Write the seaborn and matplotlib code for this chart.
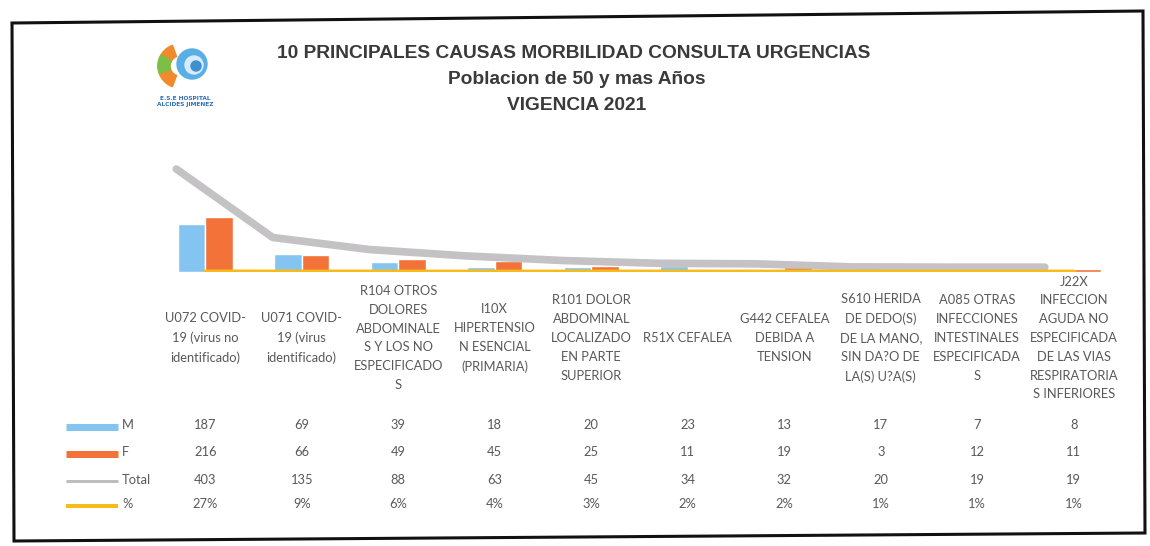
import numpy as np
import pandas as pd
import matplotlib
matplotlib.use("Agg")
import matplotlib.pyplot as plt
from matplotlib.lines import Line2D
from matplotlib.patches import Polygon, Circle, Wedge
import seaborn as sns

causas = [
    "U072 COVID-\n19 (virus no\nidentificado)",
    "U071 COVID-\n19 (virus\nidentificado)",
    "R104 OTROS\nDOLORES\nABDOMINALE\nS Y LOS NO\nESPECIFICADO\nS",
    "I10X\nHIPERTENSIO\nN ESENCIAL\n(PRIMARIA)",
    "R101 DOLOR\nABDOMINAL\nLOCALIZADO\nEN PARTE\nSUPERIOR",
    "R51X CEFALEA",
    "G442 CEFALEA\nDEBIDA A\nTENSION",
    "S610 HERIDA\nDE DEDO(S)\nDE LA MANO,\nSIN DA?O DE\nLA(S) U?A(S)",
    "A085 OTRAS\nINFECCIONES\nINTESTINALES\nESPECIFICADA\nS",
    "J22X\nINFECCION\nAGUDA NO\nESPECIFICADA\nDE LAS VIAS\nRESPIRATORIA\nS INFERIORES",
]
masculino = [187, 69, 39, 18, 20, 23, 13, 17, 7, 8]
femenino = [216, 66, 49, 45, 25, 11, 19, 3, 12, 11]
total = [403, 135, 88, 63, 45, 34, 32, 20, 19, 19]
porcentaje = [27, 9, 6, 4, 3, 2, 2, 1, 1, 1]

titulo = "10 PRINCIPALES CAUSAS MORBILIDAD CONSULTA URGENCIAS"
subtitulo = "Poblacion de 50 y mas Años"
vigencia = "VIGENCIA 2021"

c_m = "#84C4F0"
c_f = "#F3723A"
c_total = "#BEBCBE"
c_pct = "#F7BC1C"
c_texto = "#595959"

W, H = 1150, 546
n = len(causas)

# tabla larga para seaborn
codigos = [f"c{i}" for i in range(n)]
df = pd.DataFrame({
    "causa": codigos * 2,
    "casos": masculino + femenino,
    "sexo": ["M"] * n + ["F"] * n,
})

sns.set_theme(style="white")
plt.rcParams["font.family"] = ["Lato", "DejaVu Sans"]

fig = plt.figure(figsize=(W / 100, H / 100), dpi=100)
fig.patch.set_facecolor("white")

# area del grafico (pixeles de la imagen original)
x0, x1 = 157, 1122
y_base, y_top = 272, 157
ax = fig.add_axes([x0 / W, 1 - y_base / H, (x1 - x0) / W, (y_base - y_top) / H])
ax.set_facecolor("none")

sns.barplot(
    data=df, x="causa", y="casos", hue="sexo", order=codigos,
    palette={"M": c_m, "F": c_f}, width=0.57, saturation=1,
    legend=False, ax=ax, zorder=2,
)
pos = np.arange(n)
sns.lineplot(x=pos - 0.3, y=total, color=c_total, lw=5.5, alpha=0.9,
             ax=ax, zorder=3, solid_capstyle="round")
sns.lineplot(x=pos, y=np.array(porcentaje) / 100, color=c_pct, lw=3.5,
             ax=ax, zorder=4)
ax.set_xlim(-0.5, n - 0.5)
ax.set_ylim(0, 450)
ax.set_xlabel("")
ax.set_ylabel("")
ax.set_xticks([])
ax.set_yticks([])
for s in ax.spines.values():
    s.set_visible(False)


def fx(px):
    return px / W


def fy(py):
    return 1 - py / H


# centros de columna de la tabla
col_w = (x1 - x0) / n
centros = [x0 + col_w * (i + 0.5) for i in range(n)]

for cx, txt in zip(centros, causas):
    fig.text(fx(cx), fy(338), txt, ha="center", va="center", fontsize=9.3,
             color=c_texto, linespacing=1.68)

filas = [("M", masculino, 425), ("F", femenino, 452), ("Total", total, 480),
         ("%", [f"{p}%" for p in porcentaje], 504)]
for nombre, vals, py in filas:
    fig.text(fx(122), fy(py), nombre, ha="left", va="center", fontsize=9.3,
             color=c_texto)
    for cx, v in zip(centros, vals):
        fig.text(fx(cx), fy(py), str(v), ha="center", va="center",
                 fontsize=9.3, color=c_texto)

# claves de la leyenda en la tabla
claves = [(c_m, 7, 427), (c_f, 7, 454), (c_total, 3, 481), (c_pct, 4, 506)]
for color, grosor, py in claves:
    fig.add_artist(Line2D([fx(66), fx(118)], [fy(py), fy(py)], color=color,
                          lw=grosor * 0.72, solid_capstyle="butt"))

# titulos
fam_t = ["Liberation Sans", "DejaVu Sans"]
for txt, cx, py in [(titulo, 574, 53), (subtitulo, 577, 80), (vigencia, 577, 106)]:
    fig.text(fx(cx), fy(py), txt, ha="center", va="center", fontsize=13.8,
             fontweight="bold", color="#3a3a3a", family=fam_t)

# logo sencillo
lax = fig.add_axes([fx(140), fy(112), 90 / W, 72 / H])
lax.set_xlim(0, 90)
lax.set_ylim(0, 72)
lax.axis("off")
lax.add_patch(Wedge((40, 46), 22, 110, 250, width=12, color="#F08A2C"))
lax.add_patch(Wedge((40, 46), 22, 150, 200, width=12, color="#7DBE45"))
lax.add_patch(Circle((52, 48), 15, color="#5AAEE6"))
lax.add_patch(Circle((54, 47), 9, color="#D6ECFA"))
lax.add_patch(Circle((56, 46), 5, color="#3D8FD0"))
lax.text(45, 13, "E.S.E HOSPITAL", ha="center", va="center", fontsize=4.2,
         color="#2F6FB6", fontweight="bold", family=["DejaVu Sans"])
lax.text(45, 7, "ALCIDES JIMENEZ", ha="center", va="center", fontsize=4.2,
         color="#2F6FB6", fontweight="bold", family=["DejaVu Sans"])

# marco negro del recuadro escaneado
marco = Polygon([(fx(12), fy(23)), (fx(1143), fy(11)), (fx(1145), fy(533)),
                 (fx(14), fy(541))], closed=True, fill=False,
                edgecolor="#111111", lw=2.2, transform=fig.transFigure)
fig.add_artist(marco)

fig.savefig("out.png", dpi=100, facecolor="white")
